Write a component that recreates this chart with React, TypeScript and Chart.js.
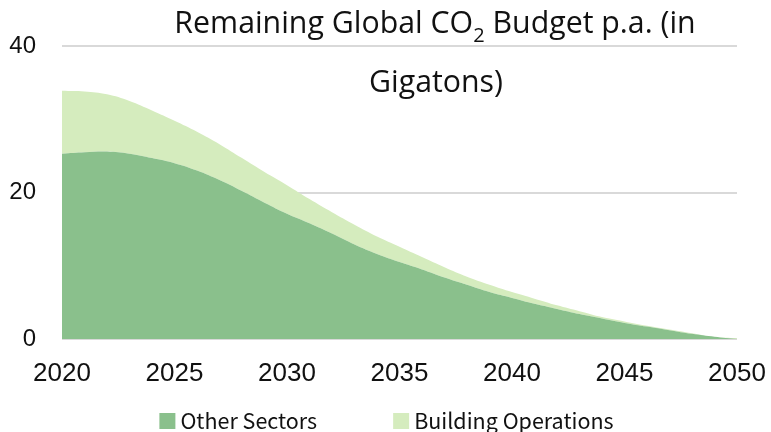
import React, { useEffect, useRef } from "react";
import { Chart, registerables } from "chart.js";

Chart.register(...registerables);

// Annual remaining CO2 budget, gigatons per year
const years = [
  2020, 2021, 2022, 2023, 2024, 2025, 2026, 2027, 2028, 2029, 2030,
  2031, 2032, 2033, 2034, 2035, 2036, 2037, 2038, 2039, 2040,
  2041, 2042, 2043, 2044, 2045, 2046, 2047, 2048, 2049, 2050,
];

const otherSectors = [
  25.3, 25.5, 25.6, 25.3, 24.7, 24.0, 23.0, 21.7, 20.2, 18.6, 17.1,
  15.8, 14.4, 12.9, 11.6, 10.5, 9.5, 8.4, 7.4, 6.4, 5.6,
  4.8, 4.1, 3.4, 2.8, 2.2, 1.7, 1.2, 0.7, 0.3, 0.0,
];

const buildingOperations = [
  8.6, 8.3, 7.8, 7.2, 6.5, 5.8, 5.3, 4.9, 4.5, 4.2, 3.9,
  3.3, 2.9, 2.7, 2.4, 2.1, 1.7, 1.4, 1.1, 1.0, 0.8,
  0.7, 0.5, 0.4, 0.2, 0.2, 0.1, 0.1, 0.1, 0.0, 0.1,
];

const seriesNames = ["Other Sectors", "Building Operations"];
const yTickValues = [0, 20, 40];
const xTickStep = 5;

const OTHER_COLOR = "#8AC08C";
const BUILDING_COLOR = "#D5ECBE";
const TEXT_COLOR = "#111111";

// Two-line heading with a subscript in "CO2"
const titlePlugin = {
  id: "co2Title",
  afterDraw(chart: any) {
    const ctx = chart.ctx as CanvasRenderingContext2D;
    ctx.save();
    ctx.fillStyle = TEXT_COLOR;
    ctx.textBaseline = "alphabetic";
    const big = "30.3px 'Open Sans'";
    const small = "20px 'Open Sans'";
    const a = "Remaining Global CO";
    const b = "2";
    const c = " Budget p.a. (in";
    ctx.font = big;
    const wa = ctx.measureText(a).width;
    const wc = ctx.measureText(c).width;
    ctx.font = small;
    const wb = ctx.measureText(b).width;
    let x = 435 - (wa + wb + wc) / 2;
    ctx.textAlign = "left";
    ctx.font = big;
    ctx.fillText(a, x, 33);
    x += wa;
    ctx.font = small;
    ctx.fillText(b, x, 41.5);
    x += wb;
    ctx.font = big;
    ctx.fillText(c, x, 33);
    ctx.textAlign = "center";
    ctx.fillText("Gigatons)", 436, 92);
    ctx.restore();
  },
};

// Legend row under the axis: square swatch + series name
const legendPlugin = {
  id: "bottomLegend",
  afterDraw(chart: any) {
    const ctx = chart.ctx as CanvasRenderingContext2D;
    const box = 16;
    const gapBoxText = 5;
    const gapItems = 76;
    const centerX = 386.5;
    const baseline = 429;
    ctx.save();
    ctx.font = "21.5px 'Noto Sans CJK JP'";
    ctx.textBaseline = "alphabetic";
    ctx.textAlign = "left";
    const items = chart.data.datasets.map((ds: any) => ({
      label: ds.label as string,
      color: ds.backgroundColor as string,
      w: ctx.measureText(ds.label).width,
    }));
    const total =
      items.reduce((s: number, it: any) => s + box + gapBoxText + it.w, 0) +
      gapItems * (items.length - 1);
    let x = centerX - total / 2;
    for (const it of items) {
      ctx.fillStyle = it.color;
      ctx.fillRect(x, baseline - box, box, box);
      x += box + gapBoxText;
      ctx.fillStyle = TEXT_COLOR;
      ctx.fillText(it.label, x, baseline);
      x += it.w + gapItems;
    }
    ctx.restore();
  },
};

export default function App() {
  const canvasRef = useRef<HTMLCanvasElement | null>(null);

  useEffect(() => {
    if (!canvasRef.current) return;
    const chart = new Chart(canvasRef.current, {
      type: "line",
      data: {
        labels: years.map(String),
        datasets: [
          {
            label: seriesNames[0],
            data: otherSectors,
            backgroundColor: OTHER_COLOR,
            borderWidth: 0,
            pointRadius: 0,
            fill: "origin",
            tension: 0.4,
          },
          {
            label: seriesNames[1],
            data: buildingOperations,
            backgroundColor: BUILDING_COLOR,
            borderWidth: 0,
            pointRadius: 0,
            fill: "-1",
            tension: 0.4,
          },
        ],
      },
      options: {
        animation: false,
        responsive: true,
        maintainAspectRatio: false,
        layout: { padding: { top: 46, left: 0, right: 34, bottom: 0 } },
        plugins: {
          legend: { display: false },
          title: { display: false },
          tooltip: { enabled: false },
        },
        scales: {
          x: {
            type: "category",
            grid: { display: false },
            border: { display: false },
            afterFit: (scale: any) => {
              scale.height = 93;
              scale.paddingLeft = 0;
              scale.paddingRight = 0;
            },
            ticks: {
              autoSkip: false,
              maxRotation: 0,
              padding: 11,
              color: TEXT_COLOR,
              font: { family: "'Liberation Sans', Arial, sans-serif", size: 26 },
              callback: (_v: any, i: number) =>
                years[i] % xTickStep === 0 ? String(years[i]) : "",
            },
          },
          y: {
            stacked: true,
            min: yTickValues[0],
            max: yTickValues[yTickValues.length - 1],
            z: 1,
            afterFit: (scale: any) => {
              scale.width = 62;
            },
            afterBuildTicks: (scale: any) => {
              scale.ticks = yTickValues.map((v) => ({ value: v }));
            },
            grid: {
              color: "rgba(0,0,0,0.15)",
              lineWidth: 2,
              drawTicks: false,
            },
            border: { display: false },
            ticks: {
              padding: 26,
              color: TEXT_COLOR,
              font: { family: "'Liberation Sans', Arial, sans-serif", size: 24 },
            },
          },
        },
      },
      plugins: [titlePlugin, legendPlugin],
    });
    return () => chart.destroy();
  }, []);

  return (
    <div
      style={{
        position: "fixed",
        left: 0,
        top: 0,
        width: 771,
        height: 432,
        background: "#ffffff",
      }}
    >
      <canvas ref={canvasRef} />
    </div>
  );
}
